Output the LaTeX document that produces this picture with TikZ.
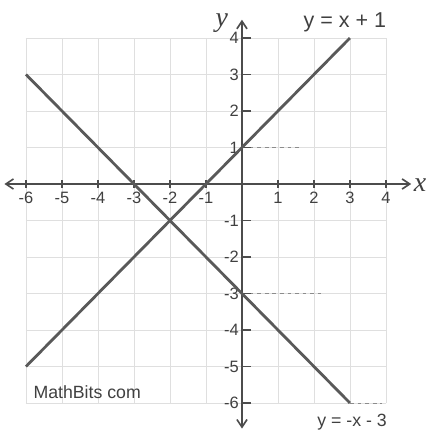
\documentclass[tikz,border=0pt]{standalone}
\usepackage{fontspec}
\setmainfont{Liberation Serif}
\setsansfont{Liberation Sans}
\usetikzlibrary{arrows.meta}
\begin{document}
\begin{tikzpicture}[x=1cm,y=1.014cm,
  gridline/.style={draw=gray!25,line width=0.5pt},
  axisline/.style={draw=black!70,line width=1.3pt,{Straight Barb[length=6pt,width=8pt]}-{Straight Barb[length=6pt,width=8pt]}},
  graphline/.style={draw=black!65,line width=2.2pt},
  ticklbl/.style={font=\sffamily\fontsize{13}{13}\selectfont,text=black!75,inner sep=1pt},
  eqlbl/.style={font=\sffamily\fontsize{17}{17}\selectfont,text=black!75,inner sep=0pt},
  axlbl/.style={font=\itshape\fontsize{22}{22}\selectfont,text=black!75,inner sep=0pt}]
\useasboundingbox (-6.722,5.041) rectangle (5.194,-6.849);
\fill[white] (-6.722,5.041) rectangle (5.194,-6.849);
% grid
\foreach \i in {-6,...,4} {
  \draw[gridline] (\i,-6) -- (\i,4);
  \draw[gridline] (-6,\i) -- (4,\i);
}
% emphasised grid segments
\draw[black!45,line width=0.8pt,dashed] (0,1) -- (1.6,1);
\draw[black!45,line width=0.8pt,dashed] (0,-3) -- (2.2,-3);
\draw[black!45,line width=0.8pt,dashed] (3,-6) -- (3.9,-6);
% axes
\coordinate (xl) at (-6.6,0);
\coordinate (xr) at (4.7,0);
\coordinate (yt) at (0,4.5);
\coordinate (yb) at (0,-6.7);
\draw[axisline] (xl) -- (xr);
\draw[axisline] (yb) -- (yt);
% ticks and labels
\foreach \i in {-6,...,-1,1,2,3,4} {
  \draw[black!70,line width=1pt] (\i,0.1) -- (\i,-0.1);
  \node[ticklbl] (tx\i) at (\i,-0.37) {\i};
}
\foreach \i in {-6,...,-1,1,2,3,4} {
  \draw[black!70,line width=1pt] (0,\i) -- (0.25,\i);
  \node[ticklbl,anchor=east] (ty\i) at (-0.05,\i) {\i};
}
\node[axlbl] (ylab) at (-0.56,4.42) {y};
\node[axlbl] (xlab) at (4.95,-0.02) {x};
% lines
\coordinate (a1) at (-6,-5);
\coordinate (a2) at (3,4);
\coordinate (b1) at (-6,3);
\coordinate (b2) at (3,-6);
\draw[graphline] (a1) -- (a2);
\draw[graphline] (b1) -- (b2);
% labels
\node[eqlbl] (eq1) at (2.86,4.44) {y = x + 1};
\node[eqlbl,font=\sffamily\fontsize{14}{14}\selectfont] (eq2) at (3.06,-6.52) {y = -x - 3};
\node[eqlbl,font=\sffamily\fontsize{14}{14}\selectfont] (mb) at (-4.3,-5.7) {MathBits com};
\end{tikzpicture}
\end{document}
